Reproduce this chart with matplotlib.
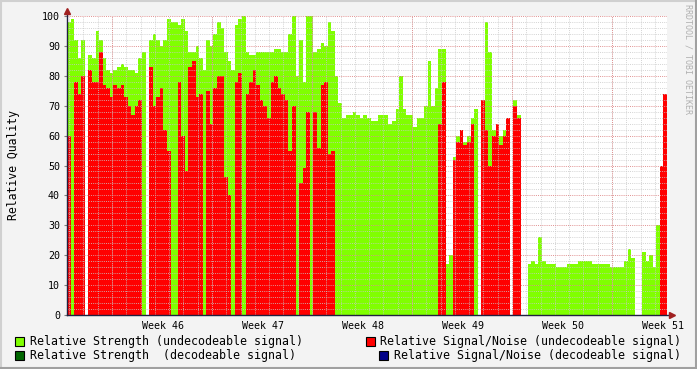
import numpy as np
import matplotlib.pyplot as plt
from matplotlib.patches import Rectangle

nan = np.nan

# 6-hour samples, 42 days (168 values)
strength_undec = [
    98, 99, 92, 86, 92, nan, 87, 86, 95, 92, 86, 82, 81, 82, 83, 84,
    83, 82, 82, 81, 86, 88, nan, 92, 94, 92, 90, 92, 99, 98, 98, 97,
    99, 95, 88, 88, 90, 86, 82, 92, 90, 94, 98, 96, 88, 85, 82, 97,
    99, 100, 88, 87, 87, 88, 88, 88, 88, 88, 89, 89, 88, 88, 94, 100,
    80, 92, 78, 100, 100, 88, 89, 91, 90, 98, 95, 80, 71, 66, 67, 67,
    68, 67, 66, 67, 66, 65, 65, 67, 67, 67, 64, 65, 69, 80, 69, 67,
    67, 63, 66, 66, 70, 85, 70, 76, 89, 89, 17, 20, 53, 60, 62, 58,
    60, 66, 69, nan, 72, 98, 88, 62, 64, 60, 62, 66, nan, 72, 67, nan,
    nan, 17, 18, 17, 26, 18, 17, 17, 17, 16, 16, 16, 17, 17, 17, 18,
    18, 18, 18, 17, 17, 17, 17, 17, 16, 16, 16, 16, 18, 22, 19, nan,
    nan, 21, 18, 20, 16, 30, 44, 40,
]
snr_undec = [
    60, nan, 78, 74, 80, nan, 82, 78, 78, 88, 77, 76, 73, 77, 76, 77,
    73, 70, 67, 70, 72, nan, nan, 83, 70, 73, 76, 62, 55, nan, nan, 78,
    60, 48, 83, 85, 73, 74, nan, 75, 64, 76, 80, 80, 46, 40, nan, 78,
    81, nan, 74, 78, 82, 77, 72, 70, 66, 78, 80, 76, 74, 72, 55, 70,
    nan, 44, 49, 68, nan, 68, 56, 77, 78, 54, 55, nan, nan, nan, nan, nan,
    nan, nan, nan, nan, nan, nan, nan, nan, nan, nan, nan, nan, nan, nan, nan, nan,
    nan, nan, nan, nan, nan, nan, nan, nan, 64, 78, nan, nan, 52, 58, 62, 57,
    58, 64, nan, nan, 72, 62, 50, 60, 64, 57, 60, 66, nan, 70, 66, nan,
    nan, nan, nan, nan, nan, nan, nan, nan, nan, nan, nan, nan, nan, nan, nan, nan,
    nan, nan, nan, nan, nan, nan, nan, nan, nan, nan, nan, nan, nan, nan, nan, nan,
    nan, nan, nan, nan, nan, nan, 50, 74,
]
week_labels = ['Week 46', 'Week 47', 'Week 48', 'Week 49', 'Week 50', 'Week 51']

step = 0.25
t = np.arange(len(strength_undec)) * step
g = np.array(strength_undec, dtype=float)
r = np.array(snr_undec, dtype=float)

W, H = 697, 369
fig = plt.figure(figsize=(W / 100, H / 100), dpi=100, facecolor='#F3F3F3')
ax = fig.add_axes([67 / W, (H - 315) / H, 600 / W, 299 / H])
ax.set_facecolor('white')

mg = ~np.isnan(g)
ax.bar(t[mg], g[mg], width=step, align='edge', color='#80FF00', linewidth=0,
       antialiased=False, zorder=2)
mr = ~np.isnan(r)
ax.bar(t[mr], r[mr], width=step, align='edge', color='#FF0000', linewidth=0,
       antialiased=False, zorder=3)

ax.set_xlim(0, 42)
ax.set_ylim(0, 100)

# grid on top of the data, rrdtool style
dots = (0, (1, 1.2))
for d in np.arange(0.15, 42, 1.0):
    ax.axvline(d, color='#C8C8C8', lw=0.7, ls=dots, alpha=0.8, zorder=4)
for v in range(2, 101, 2):
    if v % 10:
        ax.axhline(v, color='#C8C8C8', lw=0.7, ls=dots, alpha=0.8, zorder=4)
for d in np.arange(3.15, 42, 7.0):
    ax.axvline(d, color='#E09090', lw=0.7, ls=dots, zorder=5)
for v in range(10, 101, 10):
    ax.axhline(v, color='#E09090', lw=0.7, ls=dots, zorder=5)

for s in ax.spines.values():
    s.set_visible(False)
ax.plot([0, 42.2], [0, 0], color='#202040', lw=1, clip_on=False, zorder=6)
ax.plot([0, 0], [0, 101.5], color='#202040', lw=1, clip_on=False, zorder=6)
ax.plot([42.35], [0], marker='>', color='#A02020', ms=4, clip_on=False, zorder=7)
ax.plot([0], [101.8], marker='^', color='#A02020', ms=4, clip_on=False, zorder=7)

mono = 'DejaVu Sans Mono'
ax.set_yticks(range(0, 101, 10))
ax.set_yticklabels([str(v) for v in range(0, 101, 10)], family=mono, fontsize=7.2)
ax.tick_params(axis='y', length=2, pad=3, color='#808080')
ax.set_xticks(np.arange(6.7, 42, 7.0)[:len(week_labels)])
ax.set_xticklabels(week_labels, family=mono, fontsize=7.2)
ax.tick_params(axis='x', length=0, pad=4)
ax.set_ylabel('Relative Quality', family=mono, fontsize=8.3, labelpad=16)

fig.text(688 / W, 1 - 4 / H, 'RRDTOOL / TOBI OETIKER', rotation=270, va='top',
         ha='center', family=mono, fontsize=6, color='#B0B0B0')

# legend
def legend_item(x_box, y_px, color, text):
    fig.patches.append(Rectangle((x_box / W, 1 - (y_px + 4.5) / H), 9 / W, 9 / H,
                                 transform=fig.transFigure, facecolor=color,
                                 edgecolor='black', lw=0.8))
    fig.text((x_box + 14.5) / W, 1 - y_px / H, text,
             va='center', ha='left', family=mono, fontsize=8.4)

legend_item(15, 341, '#80FF00', 'Relative Strength (undecodeable signal)')
legend_item(15, 355, '#006600', 'Relative Strength  (decodeable signal)')
legend_item(366, 341, '#FF0000', 'Relative Signal/Noise (undecodeable signal)')
legend_item(379, 355, '#000088', 'Relative Signal/Noise (decodeable signal)')

# 3D-ish frame
fig.add_artist(plt.Line2D([0, 1], [1 - 1 / H, 1 - 1 / H], color='#D0D0D0', lw=1.5, transform=fig.transFigure))
fig.add_artist(plt.Line2D([1 / W, 1 / W], [0, 1], color='#D0D0D0', lw=1.5, transform=fig.transFigure))
fig.add_artist(plt.Line2D([0, 1], [1 / H, 1 / H], color='#A0A0A0', lw=1.5, transform=fig.transFigure))
fig.add_artist(plt.Line2D([1 - 1 / W, 1 - 1 / W], [0, 1], color='#A0A0A0', lw=1.5, transform=fig.transFigure))

fig.savefig('out.png', dpi=100, facecolor=fig.get_facecolor())
